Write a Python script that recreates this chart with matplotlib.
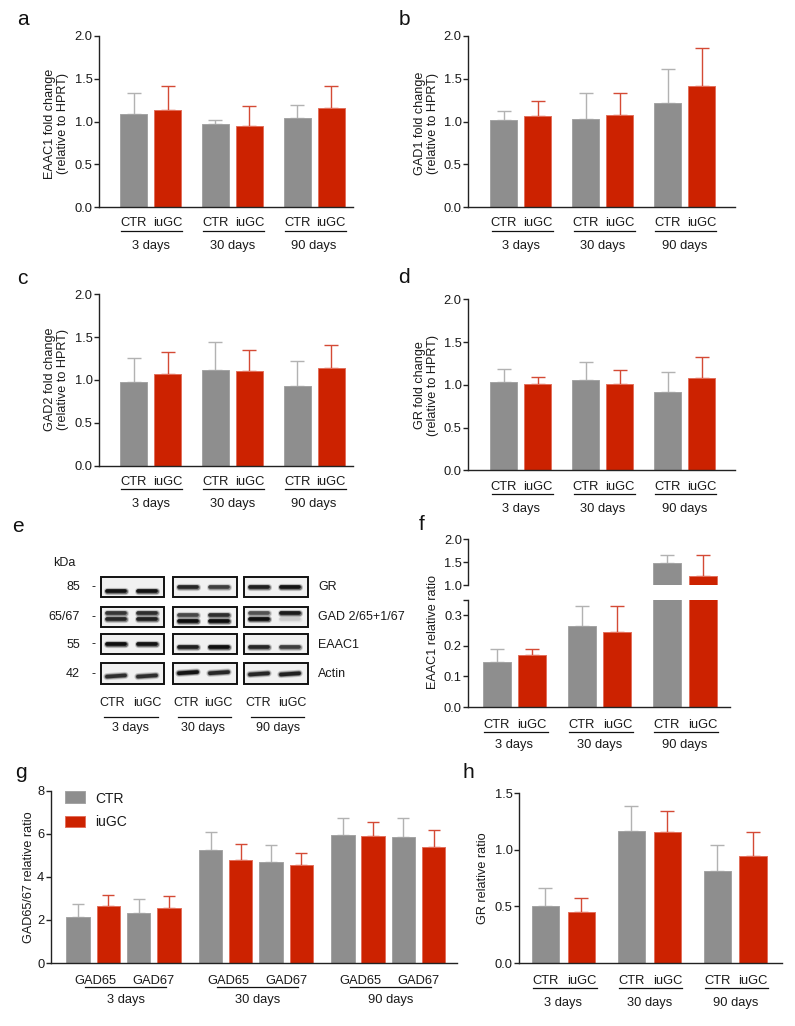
import matplotlib
matplotlib.use('Agg')
import matplotlib.pyplot as plt
from matplotlib.patches import Rectangle
from matplotlib.transforms import blended_transform_factory
import numpy as np

plt.rcParams['font.family'] = ['Liberation Sans', 'DejaVu Sans']

# ---------------- data ----------------
days = ['3 days', '30 days', '90 days']
grp = ['CTR', 'iuGC']

# a: EAAC1 mRNA
a_ctr = [1.09, 0.97, 1.04]
a_ctr_err = [0.24, 0.045, 0.15]
a_iugc = [1.135, 0.953, 1.156]
a_iugc_err = [0.28, 0.23, 0.255]
# b: GAD1 mRNA
b_ctr = [1.02, 1.03, 1.22]
b_ctr_err = [0.105, 0.305, 0.39]
b_iugc = [1.062, 1.074, 1.416]
b_iugc_err = [0.175, 0.257, 0.448]
# c: GAD2 mRNA
c_ctr = [0.977, 1.113, 0.926]
c_ctr_err = [0.276, 0.331, 0.296]
c_iugc = [1.066, 1.101, 1.14]
c_iugc_err = [0.257, 0.253, 0.269]
# d: GR mRNA
d_ctr = [1.037, 1.053, 0.912]
d_ctr_err = [0.152, 0.21, 0.238]
d_iugc = [1.014, 1.014, 1.076]
d_iugc_err = [0.082, 0.159, 0.25]
# f: EAAC1 protein
f_ctr = [0.146, 0.265, 1.48]
f_ctr_err = [0.043, 0.064, 0.18]
f_iugc = [0.171, 0.244, 1.21]
f_iugc_err = [0.02, 0.085, 0.45]
# g: GAD65/67 protein
g_isoforms = ['GAD65', 'GAD67']
g_ctr65 = [2.15, 5.23, 5.93]
g_ctr65_err = [0.57, 0.87, 0.79]
g_iugc65 = [2.66, 4.77, 5.91]
g_iugc65_err = [0.48, 0.74, 0.62]
g_ctr67 = [2.34, 4.69, 5.85]
g_ctr67_err = [0.65, 0.79, 0.87]
g_iugc67 = [2.57, 4.57, 5.40]
g_iugc67_err = [0.53, 0.54, 0.78]
# h: GR protein
h_ctr = [0.501, 1.167, 0.81]
h_ctr_err = [0.159, 0.224, 0.23]
h_iugc = [0.448, 1.158, 0.943]
h_iugc_err = [0.13, 0.189, 0.212]

# e: western blot
blot_rows = ['GR', 'GAD 2/65+1/67', 'EAAC1', 'Actin']
blot_kda = ['85', '65/67', '55', '42']
band_main = [[0.95, 0.95], [0.8, 0.65], [0.85, 0.95]]       # GR
band_gad_up = [[0.7, 0.75], [0.6, 0.75], [0.55, 0.9]]       # GAD67
band_gad_lo = [[0.8, 0.85], [1.0, 1.0], [1.0, 0.1]]         # GAD65
band_eaac1 = [[1.0, 0.95], [0.85, 1.0], [0.8, 0.65]]
band_actin = [[0.75, 0.75], [0.95, 0.8], [0.8, 0.85]]

# ---------------- style ----------------
W, H = 795, 1026
fig = plt.figure(figsize=(W / 100, H / 100), dpi=100)
FS = 9.3
GRAY, RED = '#8e8e8e', '#cc2200'
GRAY_ERR, RED_ERR = '#b2b2b2', '#d44a35'
GRAY_EDGE, RED_EDGE = '#a3a3a3', '#e2705c'
TXT = '#1a1a1a'


def fy(y):
    return 1 - y / H


def ax_px(x0, x1, ytop, ybot):
    return fig.add_axes([x0 / W, 1 - ybot / H, (x1 - x0) / W, (ybot - ytop) / H])


def style_ax(ax, yticks, ylabels=None, bottom=True):
    for s in ['top', 'right']:
        ax.spines[s].set_visible(False)
    ax.spines['left'].set_linewidth(1.0)
    ax.spines['left'].set_color('#222222')
    if bottom:
        ax.spines['bottom'].set_linewidth(1.0)
        ax.spines['bottom'].set_color('#222222')
    else:
        ax.spines['bottom'].set_visible(False)
    ax.set_xticks([])
    ax.set_yticks(yticks)
    if ylabels is None:
        ylabels = ['%.1f' % t for t in yticks]
    ax.set_yticklabels(ylabels)
    ax.tick_params(axis='y', direction='out', length=3.6, width=1.0, pad=1,
                   labelsize=FS, colors='#222222', labelcolor=TXT)
    ax.set_facecolor('none')


def bars(ax, x, vals, errs, color, edge, errc, width=1.0, cap=5):
    ax.bar(x, vals, width=width, color=color, edgecolor=edge, linewidth=0.7, zorder=2)
    ax.errorbar(x, vals, yerr=[np.zeros(len(vals)), errs], fmt='none', ecolor=errc,
                elinewidth=1.0, capsize=cap, capthick=1.0, zorder=1)


def under(ax, ybot, items, lines, dayitems, offs):
    tr = blended_transform_factory(ax.transData, fig.transFigure)
    for x, lab in items:
        ax.text(x, fy(ybot + offs[0]), lab, transform=tr, ha='center', va='baseline',
                fontsize=FS, color=TXT, clip_on=False)
    for x0, x1 in lines:
        ax.plot([x0, x1], [fy(ybot + offs[1])] * 2, transform=tr, color='#111111',
                lw=0.9, clip_on=False)
    for x, lab in dayitems:
        ax.text(x, fy(ybot + offs[2]), lab, transform=tr, ha='center', va='baseline',
                fontsize=FS, color=TXT, clip_on=False)


def pair_panel(x0, x1, ytop, ybot, ctr, ctr_e, iugc, iugc_e, xlim, pp, gp, yticks,
               ylim, offs, draw_under=True):
    ax = ax_px(x0, x1, ytop, ybot)
    xc = np.arange(3) * gp
    xi = xc + pp
    bars(ax, xc, ctr, ctr_e, GRAY, GRAY_EDGE, GRAY_ERR)
    bars(ax, xi, iugc, iugc_e, RED, RED_EDGE, RED_ERR)
    ax.set_xlim(*xlim)
    ax.set_ylim(*ylim)
    style_ax(ax, yticks)
    if draw_under:
        items = []
        for k in range(3):
            items += [(xc[k], grp[0]), (xi[k], grp[1])]
        lines = [(xc[k] - 0.45, xi[k] + 0.55) for k in range(3)]
        dayitems = [((xc[k] + xi[k]) / 2, days[k]) for k in range(3)]
        under(ax, ybot, items, lines, dayitems, offs)
    return ax, xc, xi


def ylab(x, y, s):
    fig.text(x / W, fy(y), s, rotation=90, ha='center', va='center', fontsize=FS * 0.98,
             color=TXT, multialignment='center', linespacing=1.15)


def letter(x, y, s):
    fig.text(x / W, fy(y), s, ha='left', va='baseline', fontsize=15, color='#111111')


yt2 = [0.0, 0.5, 1.0, 1.5, 2.0]
offs_ad = (19.2, 23.7, 41.5)

# a
pair_panel(99, 353.3, 36, 207, a_ctr, a_ctr_err, a_iugc, a_iugc_err, (-1.28, 8.14),
           1.26, 3.03, yt2, (0, 2), offs_ad)
ylab(56.7, 123.5, 'EAAC1 fold change\n(relative to HPRT)')
letter(17, 25, 'a')
# b
pair_panel(468, 735, 36, 207, b_ctr, b_ctr_err, b_iugc, b_iugc_err, (-1.33, 8.56),
           1.26, 3.03, yt2, (0, 2), offs_ad)
ylab(426.7, 123.5, 'GAD1 fold change\n(relative to HPRT)')
letter(399, 25, 'b')
# c
pair_panel(99, 353.3, 294.3, 465.7, c_ctr, c_ctr_err, c_iugc, c_iugc_err, (-1.28, 8.14),
           1.26, 3.03, yt2, (0, 2), offs_ad)
ylab(56.5, 379, 'GAD2 fold change\n(relative to HPRT)')
letter(17, 284, 'c')
# d
pair_panel(468, 735, 299.3, 470.3, d_ctr, d_ctr_err, d_iugc, d_iugc_err, (-1.33, 8.56),
           1.26, 3.03, yt2, (0, 2), offs_ad)
ylab(426.7, 385, 'GR fold change\n(relative to HPRT)')
letter(398, 283, 'd')

# f (broken axis)
f_xlim = (-1.01, 8.33)
axl, xc, xi = pair_panel(468.3, 730, 600, 707, f_ctr, f_ctr_err, f_iugc, f_iugc_err, f_xlim,
                         1.27, 3.04, [0.0, 0.1, 0.2, 0.3, 0.35], (0, 0.35), (21, 24.5, 41.3))
axl.set_yticklabels(['0.0', '0.1', '0.2', '0.3', ''])
axu = ax_px(468.3, 730, 539, 585.3)
bars(axu, xc, f_ctr, f_ctr_err, GRAY, GRAY_EDGE, GRAY_ERR)
bars(axu, xi, f_iugc, f_iugc_err, RED, RED_EDGE, RED_ERR)
axu.set_xlim(*f_xlim)
axu.set_ylim(1.0, 2.0)
style_ax(axu, [1.0, 1.5, 2.0], bottom=False)
ylab(433.3, 632, 'EAAC1 relative ratio')
letter(419, 530, 'f')

# g
g_xlim = (-1.17, 16.1)
axg = ax_px(50.7, 456.7, 790.7, 963)
gp = 5.63
base = np.arange(3) * gp
bars(axg, base, g_ctr65, g_ctr65_err, GRAY, GRAY_EDGE, GRAY_ERR, cap=4.2)
bars(axg, base + 1.28, g_iugc65, g_iugc65_err, RED, RED_EDGE, RED_ERR, cap=4.2)
bars(axg, base + 2.57, g_ctr67, g_ctr67_err, GRAY, GRAY_EDGE, GRAY_ERR, cap=4.2)
bars(axg, base + 3.86, g_iugc67, g_iugc67_err, RED, RED_EDGE, RED_ERR, cap=4.2)
axg.set_xlim(*g_xlim)
axg.set_ylim(0, 8)
style_ax(axg, [0, 2, 4, 6, 8], ['0', '2', '4', '6', '8'])
items = []
for k in range(3):
    items += [(base[k] + 0.75, g_isoforms[0]), (base[k] + 3.22, g_isoforms[1])]
under(axg, 963, items, [(b + 0.29, b + 3.73) for b in base],
      [(b + 2.02, days[k]) for k, b in enumerate(base)], (21, 24.3, 40.3))
ylab(29.2, 876.7, 'GAD65/67 relative ratio')
letter(15, 778, 'g')
# legend
for (yt, yb), col, edge, lab, base_y in [((790.7, 802.7), GRAY, GRAY_EDGE, 'CTR', 802.7),
                                        ((816, 827.3), RED, RED_EDGE, 'iuGC', 826.5)]:
    fig.patches.append(Rectangle((65 / W, fy(yb)), 20 / W, (yb - yt) / H, transform=fig.transFigure,
                                 facecolor=col, edgecolor=edge, lw=0.7))
    fig.text(95 / W, fy(base_y), lab, ha='left', va='baseline', fontsize=10, color=TXT)

# h
pair_panel(519, 781.7, 793.3, 963, h_ctr, h_ctr_err, h_iugc, h_iugc_err, (-0.96, 8.56),
           1.30, 3.115, [0.0, 0.5, 1.0, 1.5], (0, 1.5), (21, 25.3, 42.7))
ylab(482.5, 878, 'GR relative ratio')
letter(462, 778, 'h')

# ---------------- e: western blot ----------------
axe = ax_px(0, 400, 520, 740)
axe.set_xlim(0, 400)
axe.set_ylim(740, 520)
axe.axis('off')
box_x = [(101, 164), (173, 237), (244, 308)]
row_y = [(577, 597), (607, 627), (634, 654), (663, 684)]
lane_off = [15, 46]


def band(cx, cy, inten, w=24, tilt=0.0, th=3.6):
    half = w / 2 - th * 0.8
    for lw, al in [(th * 2.0, 0.22), (th * 1.45, 0.45), (th, 0.95)]:
        axe.plot([cx - half, cx + half], [cy + tilt, cy - tilt], color='#0a0a0a',
                 lw=lw * 0.72, alpha=min(1, al * inten), solid_capstyle='round', zorder=3)


band_specs = [
    (0, band_main, [0.68, 0.48, 0.52], 0.0),
    (1, band_gad_up, [0.3, 0.42, 0.28], 0.0),
    (1, band_gad_lo, [0.62, 0.72, 0.6], 0.0),
    (2, band_eaac1, [0.5, 0.65, 0.63], 0.0),
    (3, band_actin, [0.62, 0.46, 0.52], 0.6),
]
for r, (y0, y1) in enumerate(row_y):
    for g, (x0, x1) in enumerate(box_x):
        axe.add_patch(Rectangle((x0, y0), x1 - x0, y1 - y0, edgecolor='#111111', lw=1.4,
                                zorder=4, fill=False))
        axe.add_patch(Rectangle((x0, y0), x1 - x0, y1 - y0, facecolor='#f1f1f1',
                                edgecolor='none', zorder=1))
    axe.text(80, (y0 + y1) / 2 + 0.5, blot_kda[r], ha='right', va='center', fontsize=9, color=TXT)
    axe.text(93, (y0 + y1) / 2 + 0.5, '-', ha='center', va='center', fontsize=9, color=TXT)
    axe.text(318, (y0 + y1) / 2 + 0.5, blot_rows[r], ha='left', va='center', fontsize=9, color=TXT)
for r, inten, fr, tilt in band_specs:
    y0, y1 = row_y[r]
    for g, (x0, x1) in enumerate(box_x):
        for l in range(2):
            band(x0 + lane_off[l], y0 + fr[g] * (y1 - y0), inten[g][l], tilt=tilt)
axe.text(53, 563, 'kDa', ha='left', va='center', fontsize=9, color=TXT)
lane_lab_x = [(112.5, 147.5), (186.3, 218.3), (258, 292)]
for g in range(3):
    axe.text(lane_lab_x[g][0], 706, grp[0], ha='center', va='baseline', fontsize=9, color=TXT)
    axe.text(lane_lab_x[g][1], 706, grp[1], ha='center', va='baseline', fontsize=9, color=TXT)
for (a0, a1) in [(104, 158), (178, 231), (251, 304)]:
    axe.plot([a0, a1], [716.7, 716.7], color='#111111', lw=0.9)
for g, xm in enumerate([130, 203, 278]):
    axe.text(xm, 731, days[g], ha='center', va='baseline', fontsize=9, color=TXT)
letter(12, 532, 'e')

fig.savefig('out.png', dpi=100, facecolor='white')
